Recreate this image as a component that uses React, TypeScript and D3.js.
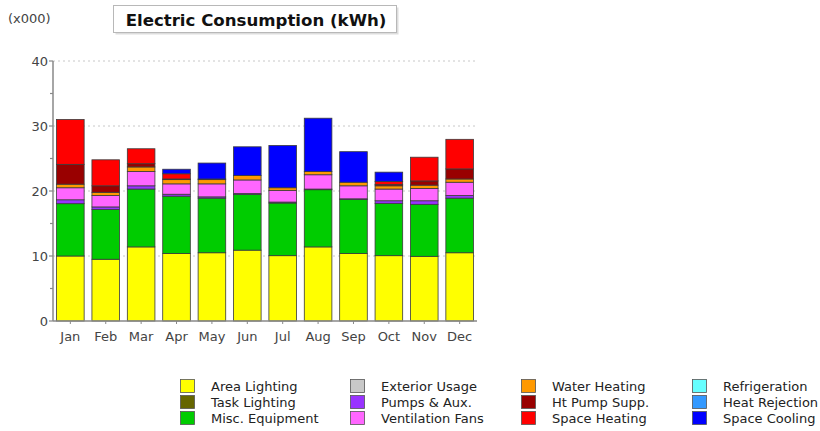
import React from "react";
import * as d3 from "d3";

const months = ["Jan", "Feb", "Mar", "Apr", "May", "Jun", "Jul", "Aug", "Sep", "Oct", "Nov", "Dec"];

const areaLighting = [10.0, 9.5, 11.4, 10.4, 10.5, 10.9, 10.05, 11.4, 10.4, 10.05, 9.95, 10.5];
const taskLighting = [0, 0, 0, 0, 0, 0, 0, 0, 0, 0, 0, 0];
const miscEquipment = [8.05, 7.65, 8.9, 8.8, 8.4, 8.6, 8.1, 8.8, 8.3, 8.05, 8.0, 8.4];
const exteriorUsage = [0, 0, 0, 0, 0, 0, 0, 0, 0, 0, 0, 0];
const pumpsAux = [0.6, 0.4, 0.5, 0.3, 0.2, 0.1, 0.15, 0.1, 0.1, 0.4, 0.55, 0.4];
const ventilationFans = [1.85, 1.75, 2.2, 1.6, 2.0, 2.1, 1.8, 2.2, 2.0, 1.8, 1.9, 2.05];
const waterHeating = [0.55, 0.5, 0.7, 0.65, 0.65, 0.7, 0.4, 0.5, 0.55, 0.5, 0.5, 0.5];
const htPumpSupp = [3.05, 1.0, 0.5, 0.1, 0.1, 0, 0, 0, 0, 0.2, 0.65, 1.55];
const spaceHeating = [6.9, 4.0, 2.3, 0.8, 0, 0, 0, 0, 0, 0.45, 3.65, 4.55];
const refrigeration = [0, 0, 0, 0, 0, 0, 0, 0, 0, 0, 0, 0];
const heatRejection = [0, 0, 0, 0, 0, 0, 0, 0, 0, 0, 0, 0];
const spaceCooling = [0, 0, 0, 0.7, 2.45, 4.4, 6.5, 8.2, 4.7, 1.45, 0, 0];

const seriesNames = [
  "Area Lighting", "Task Lighting", "Misc. Equipment",
  "Exterior Usage", "Pumps & Aux.", "Ventilation Fans",
  "Water Heating", "Ht Pump Supp.", "Space Heating",
  "Refrigeration", "Heat Rejection", "Space Cooling",
];
const seriesValues = [
  areaLighting, taskLighting, miscEquipment,
  exteriorUsage, pumpsAux, ventilationFans,
  waterHeating, htPumpSupp, spaceHeating,
  refrigeration, heatRejection, spaceCooling,
];
const seriesColors = [
  "#ffff00", "#666600", "#00cc00",
  "#c8c8c8", "#9933ff", "#ff66ff",
  "#ff9900", "#990000", "#ff0000",
  "#66ffff", "#3399ff", "#0000ff",
];
const yTicks = [0, 10, 20, 30, 40];
const yMinorTicks = [5, 15, 25, 35];

const FONT = "'DejaVu Sans', Verdana, sans-serif";

export default function App() {
  const width = 820;
  const height = 431;
  const left = 53;
  const right = 477;
  const top = 61;
  const bottom = 321;

  const x = d3.scaleBand<string>().domain(months).range([left, right]).paddingInner(0.22).paddingOuter(0.1);
  const y = d3.scaleLinear().domain([0, 40]).range([bottom, top]);

  const table = months.map((m, i) => {
    const row: any = { month: m };
    seriesNames.forEach((s, j) => (row[s] = seriesValues[j][i]));
    return row;
  });
  const stack = d3.stack<any>().keys(seriesNames);
  const layers = stack(table);

  const legendCols = [180, 350, 521, 692];
  const legendTextOff = 31;
  const legendRows = [379, 395, 411];

  return (
    <svg width={width} height={height} style={{ position: "absolute", left: 0, top: 0, background: "#fff" }} fontFamily={FONT}>
      <rect x={0} y={0} width={width} height={height} fill="#fff" />
      {/* units label */}
      <text x={8} y={23} fontSize={13} fill="#444">(x000)</text>
      {/* title box */}
      <rect x={115.5} y={7.5} width={283} height={27} fill="#bbb" opacity={0.5} />
      <rect x={113.5} y={5.5} width={283} height={27} fill="#fff" stroke="#b8b8b8" />
      <text x={256} y={25.5} textAnchor="middle" fontSize={16.6} fontWeight="bold" fill="#111">
        Electric Consumption (kWh)
      </text>

      {/* gridlines */}
      {yTicks.filter((t) => t > 0).map((t) => (
        <line key={"g" + t} x1={left} x2={475} y1={y(t)} y2={y(t)} stroke="#c8c8c8" strokeDasharray="2,3" />
      ))}

      {/* bars */}
      {layers.map((layer, j) =>
        layer.map((d, i) => {
          const h = y(d[0]) - y(d[1]);
          if (h <= 0.01) return null;
          return (
            <rect
              key={j + "-" + i}
              x={x(months[i])}
              y={y(d[1])}
              width={x.bandwidth()}
              height={h}
              fill={seriesColors[j]}
              stroke="#3a3a3a"
              strokeWidth={0.8}
            />
          );
        })
      )}

      {/* y axis */}
      <line x1={left} x2={left} y1={top} y2={bottom} stroke="#888" strokeWidth={1.5} />
      {yTicks.map((t) => (
        <g key={"yt" + t}>
          <line x1={left - 4} x2={left} y1={y(t)} y2={y(t)} stroke="#888" strokeWidth={1.2} />
          <text x={left - 5} y={y(t) + 5} textAnchor="end" fontSize={13} fill="#444">{t}</text>
        </g>
      ))}
      {yMinorTicks.map((t) => (
        <line key={"ym" + t} x1={left - 3} x2={left} y1={y(t)} y2={y(t)} stroke="#888" strokeWidth={1.2} />
      ))}

      {/* x axis */}
      <line x1={left} x2={right} y1={bottom} y2={bottom} stroke="#888" strokeWidth={1.5} />
      {months.map((m) => {
        const cx = (x(m) as number) + x.bandwidth() / 2;
        return (
          <g key={"xt" + m}>
            <line x1={cx} x2={cx} y1={bottom} y2={bottom + 3} stroke="#888" strokeWidth={1} />
            <text x={cx} y={bottom + 20} textAnchor="middle" fontSize={13} fill="#444">{m}</text>
          </g>
        );
      })}

      {/* legend */}
      {seriesNames.map((s, j) => {
        const col = Math.floor(j / 3);
        const row = j % 3;
        const lx = legendCols[col];
        const ly = legendRows[row];
        return (
          <g key={"lg" + s}>
            <rect x={lx + 0.5} y={ly + 0.5} width={14} height={13} fill={seriesColors[j]} stroke="#555" strokeWidth={0.8} />
            <text x={lx + legendTextOff} y={ly + 11.5} fontSize={13} fill="#222">{s}</text>
          </g>
        );
      })}
    </svg>
  );
}
